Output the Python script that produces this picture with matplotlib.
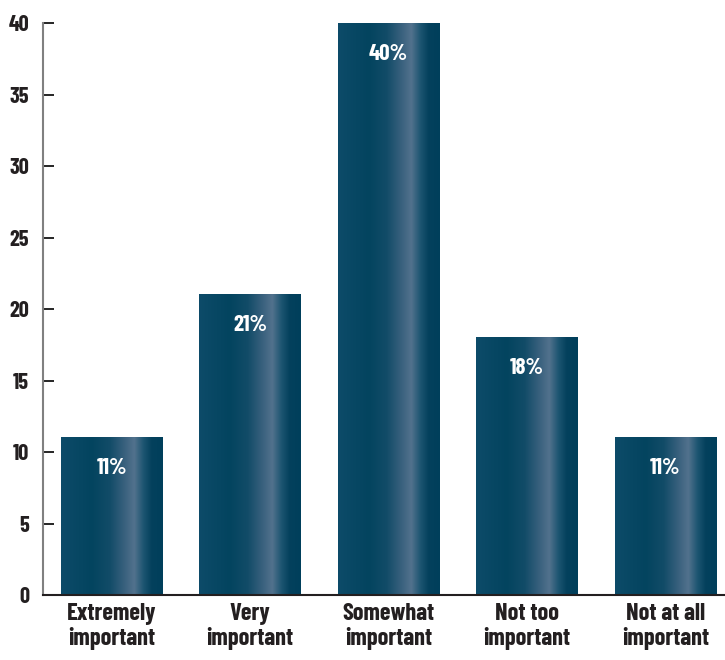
import numpy as np
import matplotlib.pyplot as plt
from matplotlib.colors import LinearSegmentedColormap

# Data
categories = ['Extremely\nimportant', 'Very\nimportant', 'Somewhat\nimportant',
              'Not too\nimportant', 'Not at all\nimportant']
values = [11, 21, 40, 18, 11]
yticks = [0, 5, 10, 15, 20, 25, 30, 35, 40]

fam = ['Barlow Condensed', 'DejaVu Sans']
text_color = '#231f20'

# horizontal gradient for the bars (dark teal with a light stripe)
grad = LinearSegmentedColormap.from_list('bar', [
    (0.0, '#0d4b69'), (0.30, '#03445f'), (0.48, '#124c68'),
    (0.62, '#38607d'), (0.72, '#52728d'), (0.81, '#1d5571'),
    (0.89, '#04415d'), (1.0, '#003f5b')])

fig = plt.figure(figsize=(7.25, 6.6), dpi=100)
ax = fig.add_axes([0.0593, 0.0985, 0.9407, 0.8665])

x = np.arange(len(categories))
width = 0.73
bars = ax.bar(x, values, width=width, color='none', edgecolor='none', zorder=2)

g = np.linspace(0, 1, 256).reshape(1, -1)
for b in bars:
    x0, y0 = b.get_x(), b.get_y()
    ax.imshow(g, cmap=grad, aspect='auto', zorder=2, interpolation='bilinear',
              extent=[x0, x0 + b.get_width(), y0, y0 + b.get_height()])

for xi, v in zip(x, values):
    ax.annotate(f'{v}%', (xi, v), xytext=(0, -22), textcoords='offset points',
                ha='center', va='center', color='white', fontsize=16.5,
                fontweight='bold', family=fam, zorder=3)

ax.set_xlim(-0.495, 4.43)
ax.set_ylim(0, 40)
ax.set_yticks(yticks)
ax.set_yticklabels([str(t) for t in yticks], family=fam, fontweight='bold',
                   fontsize=16, color=text_color)
ax.set_xticks(x)
ax.set_xticklabels(categories, family=fam, fontweight='bold', fontsize=17.5,
                   color=text_color, linespacing=1.12)
ax.tick_params(axis='x', length=0, pad=6)
ax.tick_params(axis='y', direction='in', length=8, width=1.2, color='black', pad=10)

for s in ['top', 'right']:
    ax.spines[s].set_visible(False)
ax.spines['left'].set_color('#808080')
ax.spines['left'].set_linewidth(1.5)
ax.spines['bottom'].set_color(text_color)
ax.spines['bottom'].set_linewidth(1.5)
ax.spines['bottom'].set_zorder(4)

fig.savefig('out.png', dpi=100)
